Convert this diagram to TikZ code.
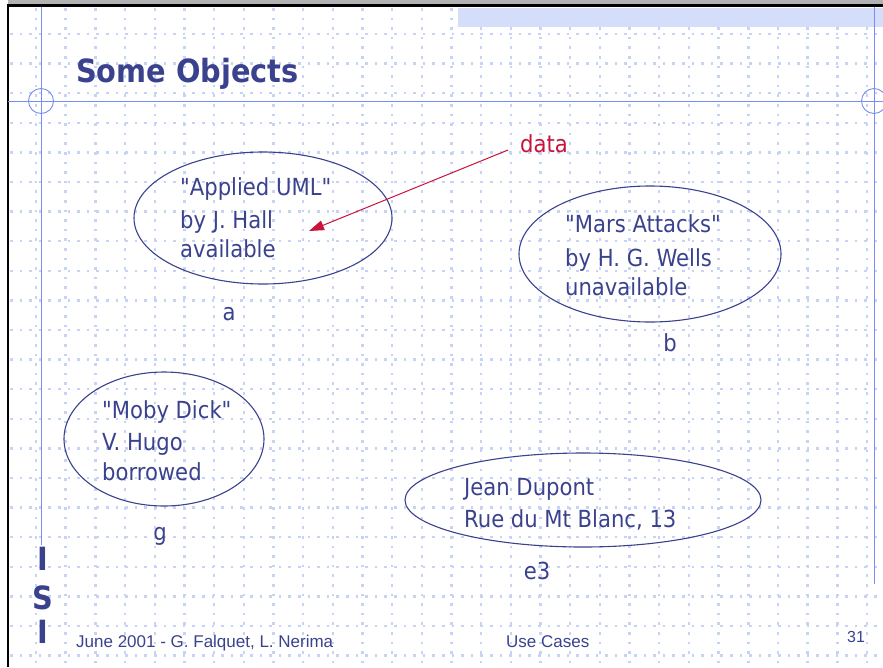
\documentclass[tikz,border=0pt]{standalone}
\usepackage{fontspec}
\setmainfont{DejaVu Sans Condensed}[Ligatures=TeXOff]
\newfontfamily\arialfont{Liberation Sans}
\usetikzlibrary{shapes.geometric,arrows.meta}
\definecolor{txtblue}{RGB}{58,66,142}
\definecolor{datared}{RGB}{200,20,60}
\definecolor{lineblue}{RGB}{120,142,240}
\definecolor{gridblue}{RGB}{198,210,248}
\definecolor{hatchblue}{RGB}{212,222,250}
\tikzset{
  gridline/.style={draw=gridblue, line width=2.4pt, dash pattern=on 2.6pt off 7pt},
  guide/.style={draw=lineblue, line width=0.9pt},
  obj/.style={ellipse, draw=txtblue, line width=1.1pt, inner sep=0pt},
  txt/.style={anchor=base west, inner sep=0pt, text=txtblue, font=\fontsize{23.5}{27}\selectfont},
  lbl/.style={anchor=base, inner sep=0pt, text=txtblue, font=\fontsize{23.5}{27}\selectfont},
  foot/.style={anchor=base west, inner sep=0pt, text=txtblue, font=\arialfont\fontsize{17}{19}\selectfont},
  isi/.style={anchor=base, inner sep=0pt, text=txtblue, font=\bfseries\fontsize{32}{34}\selectfont}
}
\begin{document}
\begin{tikzpicture}[x=1pt,y=1pt]
\useasboundingbox (0,0) rectangle (883,-667);
\fill[white] (0,0) rectangle (883,-667);
% dotted grid
\foreach \i in {0,...,28} {
  \draw[gridline] ({36+29.68*\i},-8) -- ({36+29.68*\i},-667);
}
\foreach \j in {0,...,21} {
  \draw[gridline] (10,{-34-29.6*\j}) -- (883,{-34-29.6*\j});
}
% hatched band
\fill[hatchblue] (458,-8) rectangle (883,-27);
% frame
\fill[gray!60] (8,0) rectangle (883,-4);
\draw[black, line width=2.5pt] (8,-667) -- (8,-5.5) -- (883,-5.5);
% guide lines
\draw[guide] (8,-101) -- (883,-101);
\draw[guide] (41,-7) -- (41,-545);
\draw[guide] (874,-7) -- (874,-584);
\draw[guide] (41,-101) circle (12.5);
\draw[guide] (874,-101) circle (12.5);
% title
\node[anchor=base west, inner sep=0pt, text=txtblue, font=\bfseries\fontsize{32}{36}\selectfont] (title) at (76,-82) {Some Objects};
% objects
\node[obj, minimum width=258pt, minimum height=132pt] (oa) at (263,-218) {};
\node[txt] (a1) at (180,-195) {"Applied UML"};
\node[txt] (a2) at (180,-228) {by J. Hall};
\node[txt] (a3) at (180,-257) {available};
\node[lbl] (la) at (229,-320) {a};

\node[obj, minimum width=262pt, minimum height=136pt] (ob) at (650,-254) {};
\node[txt] (b1) at (565,-232) {"Mars Attacks"};
\node[txt] (b2) at (565,-266) {by H. G. Wells};
\node[txt] (b3) at (565,-295) {unavailable};
\node[lbl] (lb) at (670,-351) {b};

\node[obj, minimum width=200pt, minimum height=134pt] (og) at (164,-439) {};
\node[txt] (g1) at (102,-418) {"Moby Dick"};
\node[txt] (g2) at (102,-450) {V. Hugo};
\node[txt] (g3) at (102,-480) {borrowed};
\node[lbl] (lg) at (160,-540) {g};

\node[obj, minimum width=356pt, minimum height=94pt] (oe) at (583,-500) {};
\node[txt] (e1) at (464,-495) {Jean Dupont};
\node[txt] (e2) at (464,-527) {Rue du Mt Blanc, 13};
\node[lbl] (le) at (537,-579) {e3};
% data annotation
\node[anchor=base west, inner sep=0pt, text=datared, font=\fontsize{23.5}{27}\selectfont] (data) at (520,-152) {data};
\coordinate (tip) at (309,-231);
\draw[datared, line width=1pt, -{Triangle[length=15pt,width=10pt]}] ([shift={(-12pt,2pt)}]data.base west) -- (tip);
% side letters
\node[isi] (i1) at (43,-570) {I};
\node[isi] (s1) at (43,-609) {S};
\node[isi] (i2) at (43,-643) {I};
% footer
\node[foot] (f1) at (76,-647) {June 2001 - G. Falquet, L. Nerima};
\node[foot] (f2) at (506,-647) {Use Cases};
\node[foot, font=\arialfont\fontsize{16}{18}\selectfont] (f3) at (847,-642) {31};
\end{tikzpicture}
\end{document}
